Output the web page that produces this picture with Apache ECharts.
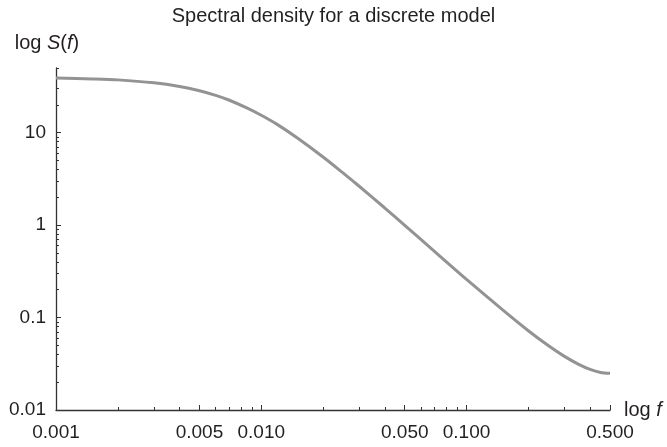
<!DOCTYPE html>
<html>
<head>
<meta charset="utf-8">
<script src="https://cdn.jsdelivr.net/npm/echarts@6/dist/echarts.min.js"></script>
<style>
  html, body { margin: 0; padding: 0; background: #ffffff; }
  #chart { width: 667px; height: 447px; }
</style>
</head>
<body>
<div id="chart"></div>
<script>
// Frequencies f and the spectral density S(f) of the discrete model
const frequency = [0.001, 0.0015, 0.002, 0.003, 0.004, 0.005, 0.006, 0.007, 0.0085, 0.01,
                   0.012, 0.015, 0.02, 0.025, 0.03, 0.04, 0.05, 0.07, 0.1, 0.15,
                   0.2, 0.25, 0.3, 0.35, 0.4, 0.45, 0.5];
const density = [38.9, 38.1, 37.2, 34.6, 31.6, 28.4, 25.3, 22.4, 18.5, 15.4,
                 12.2, 8.74, 5.45, 3.67, 2.63, 1.53, 0.993, 0.517, 0.259, 0.121,
                 0.072, 0.0498, 0.038, 0.0314, 0.0275, 0.0255, 0.0249];

// Axis ticks
const xMajorTicks = [0.001, 0.005, 0.01, 0.05, 0.1, 0.5];
const xMinorTicks = [0.002, 0.003, 0.004, 0.006, 0.007, 0.008, 0.009,
                     0.02, 0.03, 0.04, 0.06, 0.07, 0.08, 0.09,
                     0.2, 0.3, 0.4];
const yMajorTicks = [0.01, 0.1, 1, 10];
const yMinorTicks = [0.02, 0.03, 0.04, 0.05, 0.06, 0.07, 0.08, 0.09,
                     0.2, 0.3, 0.4, 0.5, 0.6, 0.7, 0.8, 0.9,
                     2, 3, 4, 5, 6, 7, 8, 9, 20, 30, 40, 50];

const textColor = '#231f20';
const axisColor = '#333333';
const fontFamily = '"Liberation Sans", Arial, Helvetica, sans-serif';

const seriesData = frequency.map((f, i) => [f, density[i]]);

const chart = echarts.init(document.getElementById('chart'), null, { renderer: 'canvas' });

const xBase = {
  type: 'log',
  logBase: 10,
  min: 0.001,
  max: 0.5,
  position: 'bottom',
  splitLine: { show: false },
  minorTick: { show: false },
  minorSplitLine: { show: false }
};
const yBase = {
  type: 'log',
  logBase: 10,
  min: 0.01,
  max: 50,
  position: 'left',
  splitLine: { show: false },
  minorTick: { show: false },
  minorSplitLine: { show: false }
};

chart.setOption({
  animation: false,
  backgroundColor: '#ffffff',
  textStyle: { fontFamily: fontFamily, color: textColor },
  title: {
    text: 'Spectral density for a discrete model',
    left: 'center',
    top: 1,
    textStyle: { fontFamily: fontFamily, fontSize: 20, fontWeight: 'normal', color: textColor }
  },
  grid: {
    left: 56, right: 57, top: 68, bottom: 37,
    containLabel: false,
    outerBoundsMode: 'none'
  },
  xAxis: [
    Object.assign({}, xBase, {
      name: 'log {i|f}',
      nameLocation: 'end',
      nameGap: 14,
      nameTextStyle: {
        fontFamily: fontFamily, fontSize: 20, color: textColor,
        rich: { i: { fontFamily: fontFamily, fontSize: 20, fontStyle: 'italic', color: textColor } }
      },
      axisLine: { show: true, lineStyle: { color: axisColor, width: 1.3 } },
      axisTick: { show: true, inside: true, length: 5, customValues: xMajorTicks,
                  lineStyle: { color: axisColor, width: 1 } },
      axisLabel: {
        show: true, margin: 13, customValues: xMajorTicks,
        fontFamily: fontFamily, fontSize: 19, color: textColor,
        formatter: v => Number(v).toFixed(3)
      }
    }),
    Object.assign({}, xBase, {
      axisLine: { show: false },
      axisTick: { show: true, inside: true, length: 3, customValues: xMinorTicks,
                  lineStyle: { color: axisColor, width: 1 } },
      axisLabel: { show: false }
    })
  ],
  yAxis: [
    Object.assign({}, yBase, {
      name: 'log {i|S}({i|f})',
      nameLocation: 'end',
      nameGap: 15,
      nameTextStyle: {
        fontFamily: fontFamily, fontSize: 20, color: textColor,
        align: 'center', padding: [0, 18, 0, 0],
        rich: { i: { fontFamily: fontFamily, fontSize: 20, fontStyle: 'italic', color: textColor } }
      },
      axisLine: { show: true, lineStyle: { color: axisColor, width: 1.3 } },
      axisTick: { show: true, inside: true, length: 5, customValues: yMajorTicks,
                  lineStyle: { color: axisColor, width: 1 } },
      axisLabel: {
        show: true, margin: 10, customValues: yMajorTicks,
        fontFamily: fontFamily, fontSize: 19, color: textColor,
        formatter: v => String(Number(v))
      }
    }),
    Object.assign({}, yBase, {
      axisLine: { show: false },
      axisTick: { show: true, inside: true, length: 3, customValues: yMinorTicks,
                  lineStyle: { color: axisColor, width: 1 } },
      axisLabel: { show: false }
    })
  ],
  series: [{
    type: 'line',
    xAxisIndex: 0,
    yAxisIndex: 0,
    data: seriesData,
    showSymbol: false,
    smooth: 0.3,
    lineStyle: { color: '#939393', width: 3 },
    z: 5
  }]
});
</script>
</body>
</html>
